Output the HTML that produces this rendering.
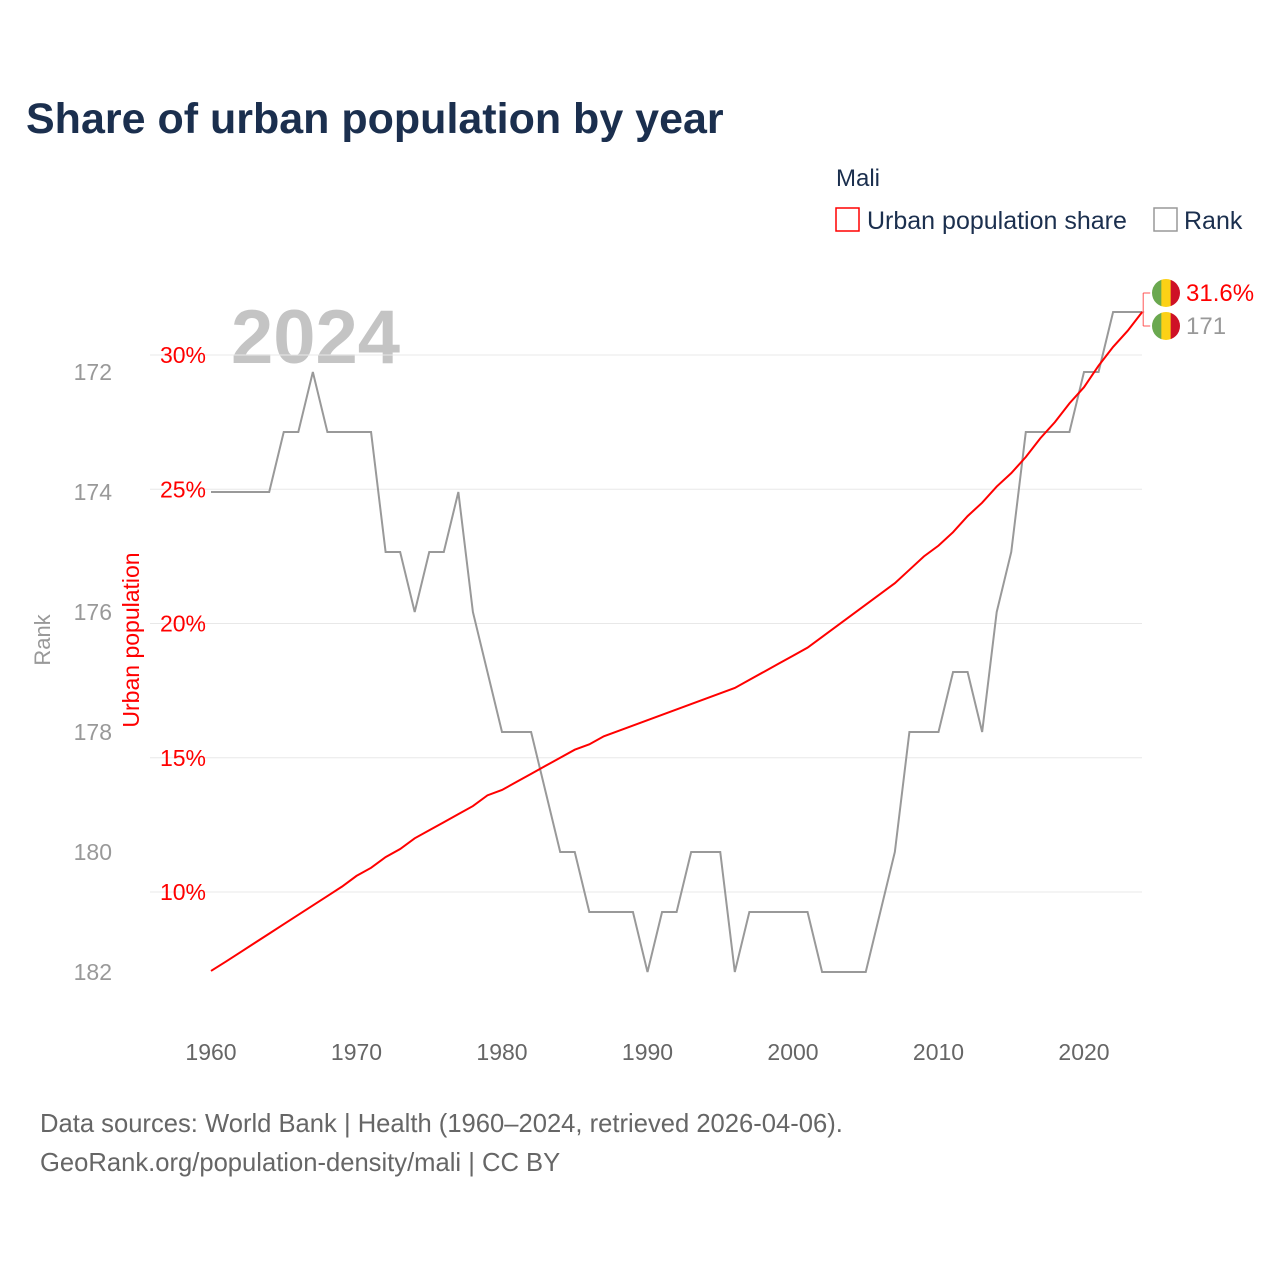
<!DOCTYPE html>
<html><head><meta charset="utf-8">
<style>
html,body{margin:0;padding:0;background:#fff;}
body{width:1280px;height:1280px;overflow:hidden;font-family:"Liberation Sans",sans-serif;}
</style></head>
<body>
<svg id="chart" width="1280" height="1280" xmlns="http://www.w3.org/2000/svg" font-family="Liberation Sans, sans-serif">
<text x="26" y="133" font-size="43" font-weight="bold" fill="#1b2f4e">Share of urban population by year</text>
<text x="836" y="186" font-size="24" fill="#1b2f4e">Mali</text>
<g>
<rect x="836" y="208" width="23" height="23" fill="none" stroke="#f00" stroke-width="1.5"/>
<text x="867" y="229" font-size="25" fill="#1b2f4e">Urban population share</text></g>
<g>
<rect x="1154" y="208" width="23" height="23" fill="none" stroke="#999" stroke-width="1.5"/>
<text x="1184" y="229" font-size="25" fill="#1b2f4e">Rank</text></g>
<text x="231" y="363" font-size="76" font-weight="bold" fill="#c4c4c4">2024</text>
<text transform="translate(50,640) rotate(-90)" text-anchor="middle" font-size="22" fill="#999">Rank</text>
<text transform="translate(139,640) rotate(-90)" text-anchor="middle" font-size="23" fill="#f00">Urban population</text>
<g id="grid"></g><g id="axes"></g><g id="series"></g>
<text x="40" y="1132" font-size="25.6" fill="#666">Data sources: World Bank | Health (1960–2024, retrieved 2026-04-06).</text>
<text x="40" y="1171" font-size="25.6" fill="#666">GeoRank.org/population-density/mali | CC BY</text>
</svg>
<script>
const years=[];for(let y=1960;y<=2024;y++)years.push(y);
const urbanShare=[7.06,7.4,7.75,8.1,8.45,8.8,9.15,9.5,9.85,10.2,10.6,10.9,11.3,11.6,12.0,12.3,12.6,12.9,13.2,13.6,13.8,14.1,14.4,14.7,15.0,15.3,15.5,15.8,16.0,16.2,16.4,16.6,16.8,17.0,17.2,17.4,17.6,17.9,18.2,18.5,18.8,19.1,19.5,19.9,20.3,20.7,21.1,21.5,22.0,22.5,22.9,23.4,24.0,24.5,25.1,25.6,26.2,26.9,27.5,28.2,28.8,29.6,30.3,30.9,31.6];
const rank=[174,174,174,174,174,173,173,172,173,173,173,173,175,175,176,175,175,174,176,177,178,178,178,179,180,180,181,181,181,181,182,181,181,180,180,180,182,181,181,181,181,181,182,182,182,182,181,180,178,178,178,177,177,178,176,175,173,173,173,173,172,172,171,171,171];
const xTicks=[1960,1970,1980,1990,2000,2010,2020];
const urbanTicks=[10,15,20,25,30];
const rankTicks=[172,174,176,178,180,182];
const X=y=>211+(y-1960)*14.55;
const YU=v=>892-(v-10)*26.85;
const YR=r=>372+(r-172)*60;
const NS='http://www.w3.org/2000/svg';
function mk(tag,attrs,parent,txt){const e=document.createElementNS(NS,tag);for(const k in attrs)e.setAttribute(k,attrs[k]);if(txt!==undefined)e.textContent=txt;document.getElementById(parent).appendChild(e);return e;}
urbanTicks.forEach(v=>{
 const l=mk('line',{x1:150,x2:1142,y1:YU(v),y2:YU(v),stroke:'#e8e8e8','stroke-width':1},'grid');
 
 
 const t=mk('text',{x:206,y:YU(v)+8,'text-anchor':'end','font-size':23,fill:'#f00'},'axes',v+'%');
 
 
});
rankTicks.forEach(r=>{
 const t=mk('text',{x:112,y:YR(r)+8,'text-anchor':'end','font-size':23,fill:'#999'},'axes',r);
 
 
});
xTicks.forEach(y=>{
 const t=mk('text',{x:X(y),y:1060,'text-anchor':'middle','font-size':23,fill:'#666'},'axes',y);
 
 
});
const rp=mk('polyline',{points:years.map((y,i)=>X(y)+','+YR(rank[i])).join(' '),fill:'none',stroke:'#999','stroke-width':2},'series');


const up=mk('polyline',{points:years.map((y,i)=>X(y)+','+YU(urbanShare[i])).join(' '),fill:'none',stroke:'#f00','stroke-width':2},'series');


const n=years.length-1,ex=X(years[n]);
const yu=YU(urbanShare[n]),yr=YR(rank[n]);
const lu=293,lr=326;
const br=mk('path',{d:`M${ex} ${yu} L${ex+2} ${yu} M${ex+1} ${lu} L${ex+1} ${lr} M${ex+1} ${lu} H${ex+8} M${ex+1} ${lr} H${ex+8}`,fill:'none',stroke:'#f55','stroke-width':1},'series');


function flag(cy,name){
 const g=mk('g',{},'series');
 
 
 const cx=1166,r=14;
 mk('clipPath',{id:name+'c'},'series');
 const c=document.createElementNS(NS,'circle');c.setAttribute('cx',cx);c.setAttribute('cy',cy);c.setAttribute('r',r);
 document.getElementById(name+'c').appendChild(c);
 [['#6aa84f',-r],['#fcd116',-r/3],['#ce1126',r/3]].forEach(([f,o])=>{
  const e=document.createElementNS(NS,'rect');e.setAttribute('x',cx+o);e.setAttribute('y',cy-r);e.setAttribute('width',2*r/3+0.5);e.setAttribute('height',2*r);e.setAttribute('fill',f);e.setAttribute('clip-path','url(#'+name+'c)');g.appendChild(e);
 });
}
flag(lu,'flag-icon-urban');flag(lr,'flag-icon-rank');
const t1=mk('text',{x:1186,y:lu+8,'font-size':24,fill:'#f00'},'series',urbanShare[n].toFixed(1)+'%');


const t2=mk('text',{x:1186,y:lr+8,'font-size':24,fill:'#999'},'series',rank[n]);


</script>
</body></html>
